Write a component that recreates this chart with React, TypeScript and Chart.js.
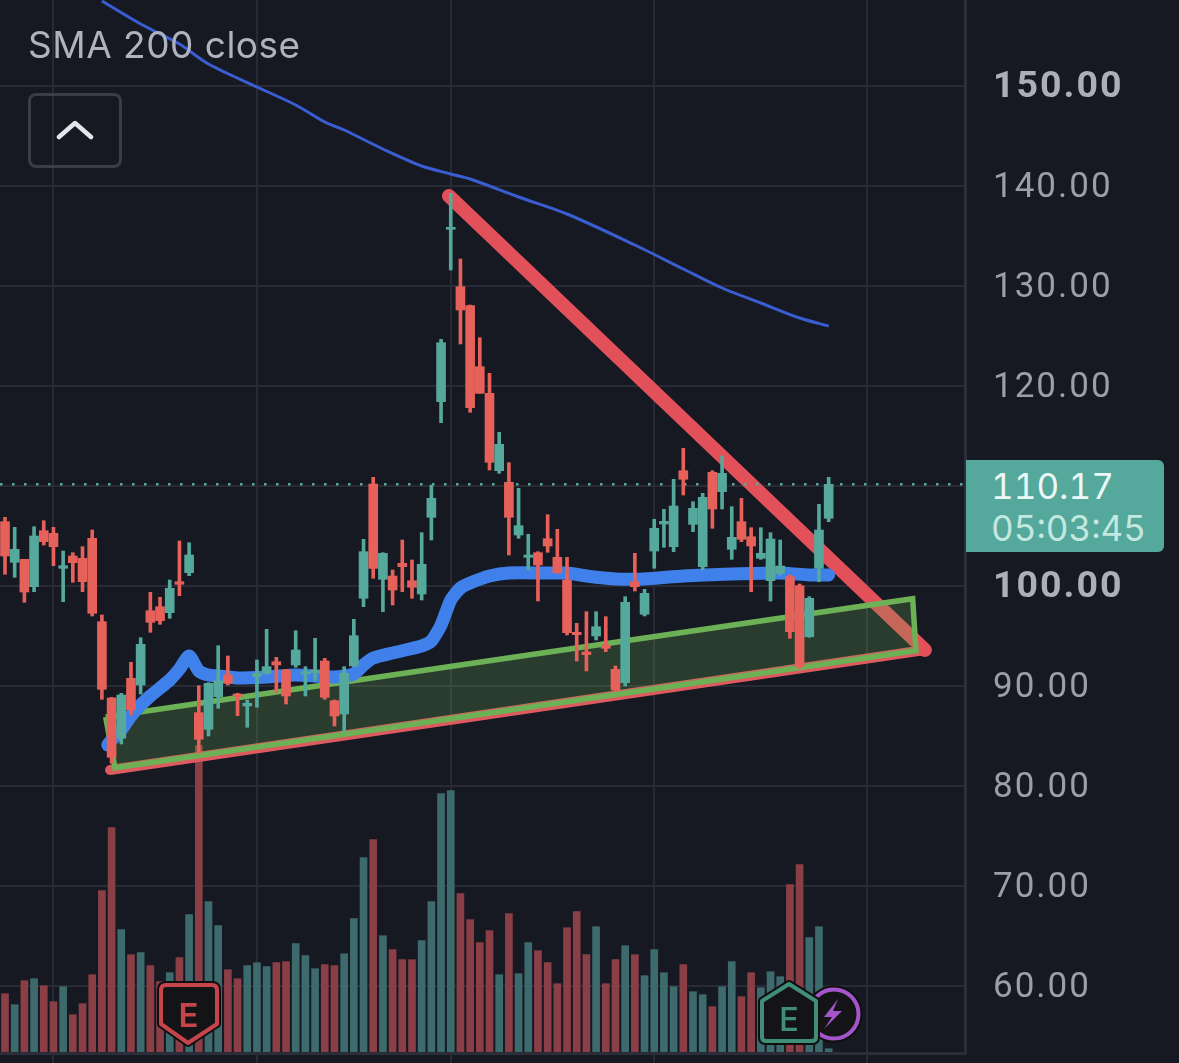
import React, { useEffect, useRef } from "react";
import { Chart, registerables } from "chart.js";

Chart.register(...registerables);

const opens = [
  106.43, 102.37, 102.67, 99.93, 105.53, 105.27, 101.77, 103.0, 102.77, 104.77,
  96.43, 88.8, 84.77, 90.77, 90.1, 97.53, 97.93, 97.33, 100.43, 101.33,
  87.33, 85.67, 88.93, 91.1, 89.2, 88.0, 90.93, 91.27, 92.43, 91.6,
  92.1, 91.2, 91.33, 92.5, 88.53, 87.2, 92.0, 98.77, 110.2, 100.67,
  101.0, 102.27, 100.53, 99.2, 106.87, 118.43, 135.67, 129.93, 128.03, 121.93,
  119.27, 111.53, 110.37, 105.1, 102.87, 103.33, 104.73, 102.87, 100.6, 95.37,
  93.4, 95.0, 94.1, 91.67, 90.33, 100.43, 97.17, 103.5, 106.2, 103.93,
  111.53, 106.17, 101.93, 111.37, 109.43, 103.67, 106.43, 104.93, 102.77, 100.53,
  101.27, 100.93, 100.03, 94.93, 101.77, 106.77,
];
const closes = [
  103.0, 103.67, 99.4, 105.0, 104.43, 103.93, 102.03, 102.33, 100.43, 97.27,
  89.67, 82.87, 89.1, 87.6, 94.17, 96.37, 96.53, 99.77, 100.17, 103.1,
  84.67, 90.27, 90.53, 90.27, 88.93, 88.27, 91.27, 91.93, 92.1, 89.0,
  93.6, 91.43, 91.6, 88.87, 87.0, 91.27, 95.03, 103.43, 101.77, 103.27,
  99.6, 101.93, 99.87, 102.17, 108.77, 124.33, 135.87, 127.6, 117.83, 119.27,
  112.37, 114.17, 106.87, 106.03, 103.1, 102.1, 104.0, 101.33, 95.33, 95.13,
  93.13, 95.93, 93.77, 89.6, 98.37, 99.93, 99.27, 105.77, 106.47, 108.0,
  110.67, 107.77, 108.87, 107.7, 111.27, 104.87, 104.67, 104.0, 103.27, 104.7,
  102.0, 95.43, 91.93, 98.77, 105.6, 110.17,
];
const highs = [
  106.87, 105.87, 102.67, 105.93, 106.53, 105.87, 103.5, 103.33, 103.93, 105.6,
  97.1, 88.87, 89.27, 92.37, 94.83, 99.37, 98.87, 100.6, 104.5, 104.33,
  90.03, 90.33, 94.03, 93.0, 89.27, 88.6, 92.6, 95.67, 92.87, 91.67,
  95.53, 91.93, 94.77, 92.77, 88.6, 91.93, 96.67, 104.67, 110.87, 103.33,
  101.6, 104.6, 102.6, 105.33, 110.1, 124.67, 139.27, 132.7, 128.1, 124.83,
  121.27, 115.37, 112.33, 109.77, 105.17, 103.43, 107.13, 105.67, 102.87, 96.27,
  97.43, 97.43, 96.93, 92.0, 98.93, 103.27, 99.67, 106.67, 107.67, 110.67,
  113.77, 108.43, 109.27, 111.53, 113.0, 107.93, 108.77, 105.83, 105.83, 105.33,
  104.6, 101.1, 100.2, 98.93, 108.17, 110.87,
];
const lows = [
  101.17, 100.87, 98.37, 99.43, 104.1, 102.03, 98.43, 100.37, 99.43, 97.0,
  88.67, 82.27, 84.2, 87.1, 89.2, 95.37, 96.17, 96.77, 99.03, 101.03,
  83.27, 85.0, 87.77, 90.1, 87.03, 85.87, 87.87, 91.2, 89.33, 88.2,
  91.87, 89.0, 90.53, 88.67, 86.0, 85.43, 91.93, 97.93, 100.77, 97.43,
  98.1, 99.43, 98.77, 98.6, 104.6, 116.33, 131.6, 124.2, 117.37, 119.27,
  111.6, 111.27, 103.1, 104.77, 101.6, 98.5, 103.37, 101.27, 95.1, 92.5,
  91.5, 94.6, 93.43, 89.43, 90.0, 99.5, 97.0, 101.77, 103.87, 103.43,
  109.1, 105.43, 101.6, 105.77, 107.7, 102.67, 104.43, 99.43, 102.67, 98.5,
  101.1, 94.77, 91.77, 94.87, 100.43, 106.43,
];
const volumes = [
  0.58, 0.47, 0.71, 0.73, 0.66, 0.5, 0.65, 0.37, 0.48, 0.77,
  1.61, 2.24, 1.22, 0.97, 0.99, 0.86, 0.7, 0.79, 0.94, 1.37,
  3.06, 1.5, 1.26, 0.82, 0.73, 0.86, 0.89, 0.85, 0.89, 0.9,
  1.08, 0.96, 0.83, 0.87, 0.86, 0.98, 1.33, 1.94, 2.12, 1.16,
  1.02, 0.92, 0.92, 1.11, 1.5, 2.58, 2.61, 1.58, 1.32, 1.09,
  1.21, 0.77, 1.38, 0.78, 1.09, 1.01, 0.89, 0.68, 1.24, 1.4,
  0.97, 1.25, 0.68, 0.92, 1.06, 0.97, 0.76, 1.02, 0.79, 0.65,
  0.87, 0.6, 0.57, 0.45, 0.65, 0.9, 0.55, 0.79, 0.64, 0.8,
  0.75, 1.67, 1.87, 1.14, 1.25, 0.03,
];

const smaBars = [10, 14, 18, 21, 26, 30, 33, 35, 39, 43, 46, 48, 53, 58, 65, 70, 74, 78, 82, 85];
const smaValues = [158.5, 156.2, 154.2, 152.2, 149.9, 148.1, 146.4, 145.6, 143.7, 142.0, 141.2, 140.7, 138.9, 137.2, 134.1, 131.7, 129.8, 128.3, 126.8, 126.0];

const avgBars = [10.6, 11, 12, 13, 14, 15, 16, 17, 18, 19, 20, 21, 22, 24, 27, 30, 34, 36, 37, 38, 40, 43, 44, 45, 46, 47, 48, 50, 52, 56, 58, 60, 63, 66, 70, 75, 80, 83, 85];
const avgValues = [84.1, 84.6, 85.6, 87.0, 88.1, 89.0, 89.8, 90.6, 91.7, 93.0, 91.5, 91.1, 91.0, 90.8, 90.9, 91.1, 90.9, 91.2, 92.1, 92.8, 93.3, 94.0, 94.5, 96.1, 98.6, 99.8, 100.3, 101.0, 101.3, 101.3, 101.3, 101.0, 100.7, 100.7, 101.0, 101.2, 101.3, 101.1, 101.1];

const downTrendBars = [45.82, 94.94];
const downTrendPrices = [139.0, 93.6];
const upTrendBars = [10.84, 94.94];
const upTrendPrices = [81.6, 93.6];
const channelBars = [10.39, 93.67, 94.01, 11.35, 10.39];
const channelPrices = [86.9, 98.73, 93.53, 81.8, 86.9];

const priceTicks = [60, 70, 80, 90, 100, 110, 120, 130, 140, 150];
const boldTicks = [100, 150];
const timeGridBars = [5, 26, 46, 67, 89];
const lastPrice = 110.17;
const countdown = "05:03:45";
const studyLabel = "SMA 200 close";

const BG = "#161822";
const GRID = "#282a35";
const UP = "#55a89c";
const DOWN = "#e5615a";
const UP_VOL = "#3d6b6d";
const DOWN_VOL = "#8a3f46";
const FONT = "Inter, 'Noto Sans', sans-serif";
const AXIS_FONT = "Roboto, Inter, sans-serif";

const pairs = (xs: number[], ys: number[]) => xs.map((x, i) => ({ x, y: ys[i] }));
const isBold = (c: any) => boldTicks.includes(c?.tick?.value);

const spacedText = {
  id: "spacedText",
  beforeDraw(chart: any) {
    chart.ctx.letterSpacing = "2px";
  },
};

export default function App() {
  const ref = useRef<HTMLCanvasElement | null>(null);

  useEffect(() => {
    document.body.style.margin = "0";
    document.body.style.background = BG;
    const isUp = opens.map((o, i) => closes[i] >= o);
    const chart = new Chart(ref.current as HTMLCanvasElement, {
      type: "bar",
      plugins: [spacedText],
      data: {
        datasets: [
          {
            type: "bar",
            label: "Volume",
            order: 10,
            yAxisID: "yVol",
            data: volumes.map((v, i) => ({ x: i, y: v })),
            backgroundColor: isUp.map((u) => (u ? UP_VOL : DOWN_VOL)),
            barThickness: 7,
            grouped: false,
          },
          {
            type: "line",
            label: "SMA 200",
            order: 9,
            data: pairs(smaBars, smaValues),
            borderColor: "#3a5ed2",
            borderWidth: 3,
            pointRadius: 0,
            tension: 0.3,
          },
          {
            type: "line",
            label: "Down trend",
            order: 8,
            data: pairs(downTrendBars, downTrendPrices),
            borderColor: "#e2505a",
            borderWidth: 14,
            borderCapStyle: "round",
            pointRadius: 0,
          },
          {
            type: "line",
            label: "Up trend",
            order: 8,
            data: pairs(upTrendBars, upTrendPrices),
            borderColor: "#dd5a5e",
            borderWidth: 10,
            borderCapStyle: "round",
            pointRadius: 0,
          },
          {
            type: "line",
            label: "Channel",
            order: 7,
            data: pairs(channelBars, channelPrices),
            borderColor: "#6cb156",
            backgroundColor: "rgba(108,177,86,0.24)",
            borderWidth: 5.5,
            borderJoinStyle: "miter",
            fill: "shape",
            pointRadius: 0,
          },
          {
            type: "line",
            label: "Average",
            order: 6,
            data: pairs(avgBars, avgValues),
            borderColor: "#3f80ea",
            borderWidth: 13,
            borderCapStyle: "round",
            borderJoinStyle: "round",
            pointRadius: 0,
            tension: 0.2,
          },
          {
            type: "line",
            label: "Last",
            order: 5,
            data: [
              { x: -0.516, y: lastPrice },
              { x: 99.07, y: lastPrice },
            ],
            borderColor: "#5aa79d",
            borderWidth: 2.5,
            borderDash: [2.5, 9.5],
            pointRadius: 0,
          },
          {
            type: "bar",
            label: "Wick",
            order: 2,
            data: lows.map((l, i) => ({ x: i, y: [l, highs[i]] })),
            backgroundColor: isUp.map((u) => (u ? UP : DOWN)),
            barThickness: 3,
            grouped: false,
          },
          {
            type: "bar",
            label: "Body",
            order: 1,
            data: opens.map((o, i) => ({ x: i, y: [o, closes[i]] })),
            backgroundColor: isUp.map((u) => (u ? UP : DOWN)),
            barThickness: 9,
            grouped: false,
          },
        ],
      } as any,
      options: {
        responsive: false,
        animation: false,
        events: [],
        layout: { padding: 0 },
        plugins: { legend: { display: false }, tooltip: { enabled: false } },
        scales: {
          x: {
            type: "linear",
            offset: false,
            min: -0.516,
            max: 99.07,
            position: "bottom",
            afterBuildTicks: (s: any) => {
              s.ticks = timeGridBars.map((value) => ({ value }));
            },
            afterFit: (s: any) => {
              s.height = 10;
              s.paddingLeft = 0;
              s.paddingRight = 0;
            },
            ticks: { display: false },
            grid: { color: GRID, lineWidth: 2, tickLength: 10, offset: false },
            border: { display: true, color: "#2b2d38", width: 3 },
          },
          y: {
            type: "linear",
            position: "right",
            min: 53.3,
            max: 158.6,
            afterBuildTicks: (s: any) => {
              s.ticks = priceTicks.map((value) => ({ value }));
            },
            afterFit: (s: any) => {
              s.width = 214;
              s.paddingTop = 0;
              s.paddingBottom = 0;
            },
            ticks: {
              align: "center",
              crossAlign: "near",
              padding: 28,
              labelOffset: 2,
              color: (c: any) => (isBold(c) ? "#acaeba" : "#9c9ea9"),
              font: (c: any) => ({
                family: AXIS_FONT,
                size: isBold(c) ? 37.5 : 35,
                weight: isBold(c) ? "700" : "400",
              }),
              callback: (v: any) => Number(v).toFixed(2),
            },
            grid: { color: GRID, lineWidth: 2, drawTicks: false },
            border: { display: true, color: "#2c2f3a", width: 3 },
          },
          yVol: {
            type: "linear",
            display: false,
            min: -0.013,
            max: 10.517,
          },
        },
      } as any,
    });
    return () => chart.destroy();
  }, []);

  return (
    <div style={{ position: "absolute", left: 0, top: 0, width: 1179, height: 1063, background: BG, overflow: "hidden" }}>
      <canvas ref={ref} width={1179} height={1063} style={{ display: "block", width: 1179, height: 1063 }} />
      <div style={{ position: "absolute", left: 28, top: 23, font: `37px ${FONT}`, letterSpacing: "0.5px", color: "#b0b2bd", lineHeight: "44px", whiteSpace: "nowrap" }}>
        {studyLabel}
      </div>
      <div style={{ position: "absolute", left: 28, top: 93, width: 88, height: 69, border: "3px solid #3c3d44", borderRadius: 8 }} />
      <div style={{ position: "absolute", left: 966, top: 460, width: 198, height: 92, background: UP, borderRadius: "0 6px 6px 0", font: `35px ${FONT}`, fontFeatureSettings: '"tnum"' }}>
        <div style={{ position: "absolute", left: 25, top: 5, lineHeight: "42px", color: "#ecf8f5" }}>{lastPrice.toFixed(2)}</div>
        <div style={{ position: "absolute", left: 25, top: 47, lineHeight: "42px", color: "#c4e8e0" }}>{countdown}</div>
      </div>
      <svg width={1179} height={1063} style={{ position: "absolute", left: 0, top: 0, pointerEvents: "none" }}>
        <polyline points="59,137 75,123 91,137" fill="none" stroke="#e4e4ea" strokeWidth={4.5} strokeLinecap="round" strokeLinejoin="round" />
        <path d="M166 985 H212 Q217 985 217 990 V1024 L188 1043 L161 1024 V990 Q161 985 166 985 Z" fill="#141416" stroke="#0f0f12" strokeWidth={8} strokeLinejoin="round" />
        <path d="M166 985 H212 Q217 985 217 990 V1024 L188 1043 L161 1024 V990 Q161 985 166 985 Z" fill="#141416" stroke="#c6454b" strokeWidth={4} strokeLinejoin="round" />
        <text x={188.5} y={1027} textAnchor="middle" fontFamily={FONT} fontWeight={600} fontSize={33} fill="#c6454b">E</text>
        <circle cx={834} cy={1014} r={24.5} fill="#141416" stroke="#0f0f12" strokeWidth={8} />
        <circle cx={834} cy={1014} r={24.5} fill="#141416" stroke="#a455c9" strokeWidth={4} />
        <path d="M838 999 L824 1017 H832 L824 1029 L842 1011 H833 Z" fill="#a455c9" />
        <path d="M789 984 L816 1001 V1037 Q816 1041 812 1041 H766 Q762 1041 762 1037 V1001 Z" fill="#141416" stroke="#0f0f12" strokeWidth={8} strokeLinejoin="round" />
        <path d="M789 984 L816 1001 V1037 Q816 1041 812 1041 H766 Q762 1041 762 1037 V1001 Z" fill="#141416" stroke="#3f8e78" strokeWidth={4} strokeLinejoin="round" />
        <text x={789} y={1031} textAnchor="middle" fontFamily={FONT} fontWeight={500} fontSize={33} fill="#3f8e78">E</text>
      </svg>
    </div>
  );
}
